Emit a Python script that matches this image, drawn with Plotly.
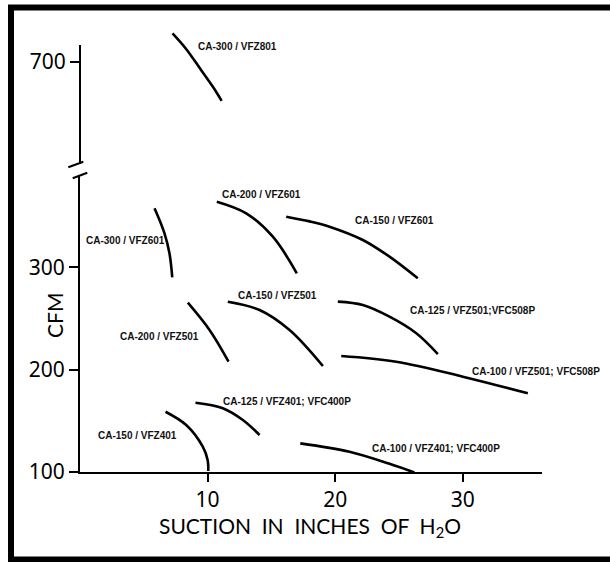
import plotly.graph_objects as go

# ---------------- data ----------------
# upper panel (broken y-axis, around 700 CFM)
ca300_vfz801_x = [7.25, 8.3, 9.5, 10.4, 11.1]
ca300_vfz801_y = [728, 713, 692, 676, 662]

# lower panel
ca300_vfz601_x = [5.84, 6.62, 7.01, 7.23]
ca300_vfz601_y = [357.8, 333.3, 313.8, 290.3]

ca200_vfz601_x = [10.72, 13.02, 15.11, 16.99]
ca200_vfz601_y = [364.2, 352.9, 330.0, 294.2]

ca150_vfz601_x = [16.16, 18.0, 19.55, 22.16, 24.25, 26.47]
ca150_vfz601_y = [349.6, 345.0, 339.8, 326.8, 310.5, 289.3]

ca150_vfz501_x = [11.58, 14.07, 16.42, 19.03]
ca150_vfz501_y = [266.5, 258.4, 238.8, 203.6]

ca200_vfz501_x = [8.45, 10.15, 11.64]
ca200_vfz501_y = [265.5, 238.8, 207.8]

ca125_vfz501_x = [20.2, 22.16, 24.25, 26.35, 28.04]
ca125_vfz501_y = [266.5, 263.2, 251.8, 235.6, 215.3]

ca100_vfz501_x = [20.47, 24.78, 30.0, 35.09]
ca100_vfz501_y = [213.4, 207.8, 193.2, 176.9]

ca125_vfz401_x = [9.05, 11.19, 12.76, 14.07]
ca125_vfz401_y = [167.7, 162.3, 150.8, 136.2]

ca150_vfz401_x = [6.7, 8.32, 9.62, 10.0, 10.05]
ca150_vfz401_y = [158.9, 145.9, 124.7, 111.7, 101.0]

ca100_vfz401_x = [17.26, 21.12, 24.25, 26.2]
ca100_vfz401_y = [128.0, 119.8, 108.0, 99.5]

series_names = [
    "CA-300 / VFZ801", "CA-300 / VFZ601", "CA-200 / VFZ601", "CA-150 / VFZ601",
    "CA-150 / VFZ501", "CA-200 / VFZ501", "CA-125 / VFZ501;VFC508P",
    "CA-100 / VFZ501; VFC508P", "CA-125 / VFZ401; VFC400P", "CA-150 / VFZ401",
    "CA-100 / VFZ401; VFC400P",
]
series_x = [ca300_vfz801_x, ca300_vfz601_x, ca200_vfz601_x, ca150_vfz601_x,
            ca150_vfz501_x, ca200_vfz501_x, ca125_vfz501_x, ca100_vfz501_x,
            ca125_vfz401_x, ca150_vfz401_x, ca100_vfz401_x]
series_y = [ca300_vfz801_y, ca300_vfz601_y, ca200_vfz601_y, ca150_vfz601_y,
            ca150_vfz501_y, ca200_vfz501_y, ca125_vfz501_y, ca100_vfz501_y,
            ca125_vfz401_y, ca150_vfz401_y, ca100_vfz401_y]
series_panel = ["upper"] + ["lower"] * 10

# label anchor points (left edge, vertical middle) in data units
label_x = [9.05, 0.35, 11.0, 21.38, 12.24, 2.96, 25.69, 30.52, 11.01, 1.22, 22.75]
label_y = [714.7, 326.1, 371.7, 345.6, 272.3, 232.9, 257.7, 198.0, 168.7, 135.2, 122.5]

x_ticks = [10, 20, 30]
lower_ticks = [100, 200, 300]
upper_ticks = [700]

# ---------------- figure ----------------
W, H = 610, 562
L, R, T, B = 80, 68, 30, 90
pw, ph = W - L - R, H - T - B


def px_to_paper(px, py):
    return (px - L) / pw, (H - B - py) / ph


fig = go.Figure()
for name, xs, ys, panel in zip(series_names, series_x, series_y, series_panel):
    fig.add_trace(go.Scatter(
        x=xs, y=ys, mode="lines", name=name,
        line=dict(color="black", width=2.6, shape="spline", smoothing=1.0),
        yaxis="y2" if panel == "upper" else "y",
        showlegend=False, hoverinfo="skip",
    ))

for name, lx, ly, panel in zip(series_names, label_x, label_y, series_panel):
    fig.add_annotation(
        x=lx, y=ly, xref="x", yref="y2" if panel == "upper" else "y",
        text=name, showarrow=False, xanchor="left", yanchor="middle",
        font=dict(family="Liberation Sans, Arial", size=10, color="#111", weight="bold"),
    )

tick_font = dict(family="Noto Sans, sans-serif", size=21, color="black")

scale = 1.023  # px per CFM
lower_dom_top = (H - B - 176) / ph
upper_dom_bot = (H - B - 164) / ph
lower_top_val = 100 + (H - B - 176) / scale
upper_bot_val = 700 - (164 - 62) / scale
upper_top_val = 700 + (62 - T) / scale
axis_top_val = 700 + (62 - 45) / scale

fig.update_layout(
    width=W, height=H,
    margin=dict(l=L, r=R, t=T, b=B),
    paper_bgcolor="white", plot_bgcolor="white",
    xaxis=dict(range=[0, 36.2], tickvals=x_ticks, ticks="outside", ticklen=8,
               tickwidth=2, tickcolor="black", showline=True, linewidth=2,
               linecolor="black", showgrid=False, zeroline=False,
               tickfont=tick_font, anchor="y"),
    yaxis=dict(domain=[0, lower_dom_top], range=[100, lower_top_val],
               tickvals=lower_ticks, ticks="outside", ticklen=9, tickwidth=2,
               tickcolor="black", showline=True, linewidth=2, linecolor="black",
               showgrid=False, zeroline=False, tickfont=tick_font, ticklabelstandoff=0),
    yaxis2=dict(domain=[upper_dom_bot, 1], range=[upper_bot_val, upper_top_val],
                tickvals=upper_ticks, ticks="outside", ticklen=9, tickwidth=2,
                tickcolor="black", showline=False, showgrid=False, zeroline=False,
                tickfont=tick_font, anchor="x", ticklabelstandoff=0),
)

# upper axis line (stops below the plot top)
fig.add_shape(type="line", xref="paper", yref="y2", x0=0, x1=0,
              y0=upper_bot_val, y1=axis_top_val, line=dict(color="black", width=2))

# axis break slashes
for (a, b), (c, d) in [((68.3, 167.3), (83.3, 161.7)), ((72.7, 178.3), (87.3, 172.7))]:
    x0, y0 = px_to_paper(a, b)
    x1, y1 = px_to_paper(c, d)
    fig.add_shape(type="line", xref="paper", yref="paper", x0=x0, y0=y0, x1=x1, y1=y1,
                  line=dict(color="black", width=2))

# outer frame
fx0, fy0 = px_to_paper(11, 559.5)
fx1, fy1 = px_to_paper(620, 7.5)
fig.add_shape(type="rect", xref="paper", yref="paper", x0=fx0, y0=fy0, x1=fx1, y1=fy1,
              line=dict(color="black", width=6), fillcolor="rgba(0,0,0,0)")

# axis titles
tx, ty = px_to_paper(310, 527)
fig.add_annotation(xref="paper", yref="paper", x=tx, y=ty, showarrow=False,
                   text="SUCTION  IN  INCHES  OF  H<sub>2</sub>O",
                   font=dict(family="Lato, sans-serif", size=21, color="black"),
                   xanchor="center", yanchor="middle")
cx, cy = px_to_paper(55, 316)
fig.add_annotation(xref="paper", yref="paper", x=cx, y=cy, showarrow=False,
                   text="CFM", textangle=-90,
                   font=dict(family="Lato, sans-serif", size=21, color="black"),
                   xanchor="center", yanchor="middle")

fig.write_html("out.html", config={"displayModeBar": False},
               post_script="document.body.style.margin='0px';document.body.style.overflow='hidden';")
